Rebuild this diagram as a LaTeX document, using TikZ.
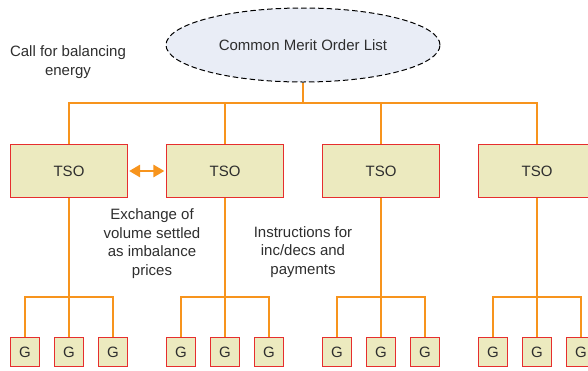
\documentclass[tikz,border=0pt]{standalone}
\usepackage{fontspec}
\setmainfont{Liberation Sans}
\usetikzlibrary{arrows.meta,shapes.geometric}
\definecolor{org}{HTML}{F7941D}
\definecolor{boxfill}{HTML}{ECEABF}
\definecolor{boxline}{HTML}{E62E2E}
\definecolor{ellfill}{HTML}{E9EDF6}
\definecolor{txt}{HTML}{2E2E2E}
\begin{document}
\begin{tikzpicture}[x=1pt,y=-1pt,
  font=\fontsize{15}{18.5}\selectfont, text=txt,
  tso/.style={draw=boxline, fill=boxfill, line width=1.2pt, minimum width=117pt, minimum height=53pt, inner sep=0pt},
  gen/.style={draw=boxline, fill=boxfill, line width=1.2pt, minimum width=29pt, minimum height=29pt, inner sep=0pt},
  cml/.style={ellipse, draw=black, fill=ellfill, line width=1pt, dash pattern=on 5.5pt off 3pt, minimum width=274pt, minimum height=74pt, inner sep=0pt},
  link/.style={draw=org, line width=2.8pt},
  lbl/.style={align=center, inner sep=0pt}]
\useasboundingbox (0,0) rectangle (588,370);
\node[cml] (cml) at (303,45) {Common Merit Order List};
\coordinate (bus) at (303,103);
\foreach \i/\x in {1/69,2/225,3/381,4/537}{
  \node[tso] (t\i) at (\x,171) {TSO};
  \coordinate (s\i) at (\x,297);
  \node[gen] (g\i a) at (\x-44,352) {G};
  \node[gen] (g\i b) at (\x,352) {G};
  \node[gen] (g\i c) at (\x+44,352) {G};
}
\draw[link] (cml.south) -- (bus);
\draw[link] (t1.north) |- (bus);
\draw[link] (t4.north) |- (bus);
\draw[link] (t2.north) -- (t2.north |- bus);
\draw[link] (t3.north) -- (t3.north |- bus);
\foreach \i in {1,2,3,4}{
  \draw[link] (t\i.south) -- (g\i b.north);
  \draw[link] (g\i a.north) |- (s\i) -| (g\i c.north);
}
\draw[link, {Triangle[length=11pt,width=12pt]}-{Triangle[length=11pt,width=12pt]}, shorten <=1pt, shorten >=1.5pt] (t1.east) -- (t2.west);
\node[lbl] (call) at (68,62) {Call for balancing\\energy};
\node[lbl] (exch) at (152,243.5) {Exchange of\\volume settled\\as imbalance\\prices};
\node[lbl] (instr) at (303,252) {Instructions for\\inc/decs and\\payments};
\end{tikzpicture}
\end{document}
